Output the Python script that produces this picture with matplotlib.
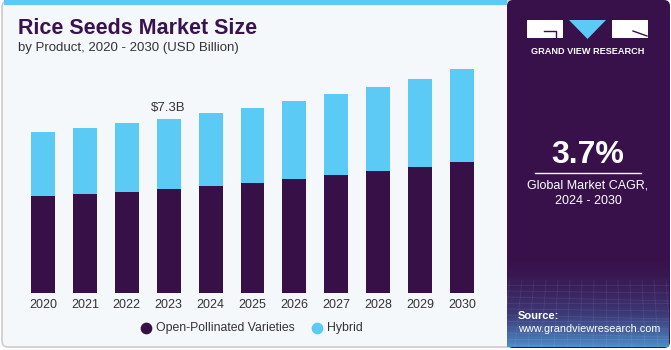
import numpy as np
import matplotlib.pyplot as plt
from matplotlib.patches import FancyBboxPatch, Rectangle, Polygon

years = ["2020", "2021", "2022", "2023", "2024", "2025", "2026", "2027", "2028", "2029", "2030"]
open_pollinated = [4.08, 4.17, 4.25, 4.39, 4.51, 4.64, 4.79, 4.95, 5.13, 5.29, 5.51]
hybrid = [2.70, 2.74, 2.88, 2.91, 3.05, 3.13, 3.26, 3.40, 3.51, 3.71, 3.89]
highlight_label = "$7.3B"
highlight_idx = 3

purple = "#371047"
sky = "#5BCAF5"
panel = "#38114A"
W, H = 671, 350

plt.rcParams['font.family'] = ['Liberation Sans', 'DejaVu Sans']

fig = plt.figure(figsize=(W / 100, H / 100), dpi=100)
fig.patch.set_facecolor("white")

# background / decoration layer in pixel coordinates
bg = fig.add_axes([0, 0, 1, 1])
bg.set_xlim(0, W)
bg.set_ylim(H, 0)
bg.axis("off")
bg.add_patch(FancyBboxPatch((2, 1), W - 5, H - 4, boxstyle="round,pad=0,rounding_size=6",
                            fc="#F4F8FB", ec="#CCCCCC", lw=1.2))
bg.add_patch(Rectangle((4, 0), 503, 5, fc=sky, ec="none"))
bg.add_patch(FancyBboxPatch((507, 0), W - 508, H - 2, boxstyle="round,pad=0,rounding_size=6",
                            fc=panel, ec="none"))
# bottom gradient of the side panel
grad = np.linspace(0, 1, 100)[:, None]
cmap = plt.matplotlib.colors.LinearSegmentedColormap.from_list("g", [panel, "#3D3A78", "#4C8CC8"])
bg.imshow(grad ** 1.6, extent=(507, W - 2, H - 3, 255), cmap=cmap, aspect="auto", zorder=2)
for k in range(12):
    yy = 285 + k * 6
    bg.plot([507, W - 2], [yy, yy + (k % 3) * 2], color="white", alpha=0.08, lw=0.6, zorder=3)
for k in range(14):
    xx = 510 + k * 12
    bg.plot([xx, xx - 8 + k], [280, H - 3], color="white", alpha=0.08, lw=0.6, zorder=3)

# logo
bg.add_patch(Rectangle((527, 20), 36, 18, fc="white", ec="none", zorder=4))
bg.add_patch(Polygon([(569, 20), (606, 20), (587.5, 39)], closed=True, fc=sky, ec="none", zorder=4))
bg.add_patch(Rectangle((612, 20), 36, 18, fc="white", ec="none", zorder=4))
bg.plot([544, 556, 556], [31, 31, 38], color=panel, lw=1, zorder=5)
bg.plot([633, 647], [31, 36], color=panel, lw=1, zorder=5)
bg.text(587.5, 51, "GRAND VIEW RESEARCH", color="white", fontsize=6.6, fontweight="bold",
        ha="center", va="center", zorder=5)

bg.text(588, 155, "3.7%", color="white", fontsize=23, fontweight="bold", ha="center", va="center", zorder=5)
bg.plot([535, 641], [173, 173], color="white", lw=1, zorder=5)
bg.text(588, 185.5, "Global Market CAGR,", color="white", fontsize=9, ha="center", va="center", zorder=5)
bg.text(588, 201.5, "2024 - 2030", color="white", fontsize=9, ha="center", va="center", zorder=5)
bg.text(518, 316, "Source:", color="white", fontsize=8, fontweight="bold", ha="left", va="center", zorder=5)
bg.text(518, 329, "www.grandviewresearch.com", color="white", fontsize=7.8, ha="left", va="center", zorder=5)

# titles
bg.text(18, 28, "Rice Seeds Market Size", color="#3A1250", fontsize=15.5, fontweight="bold",
        ha="left", va="center")
bg.text(18, 48, "by Product, 2020 - 2030 (USD Billion)", color="#333333", fontsize=9.5,
        ha="left", va="center")

# legend
bg.scatter([146], [328], s=55, color=purple, zorder=5)
bg.text(156, 328, "Open-Pollinated Varieties", fontsize=8.8, color="#333333", va="center", ha="left")
bg.scatter([317], [328], s=55, color=sky, zorder=5)
bg.text(327, 328, "Hybrid", fontsize=8.8, color="#333333", va="center", ha="left")

# chart
ax = fig.add_axes([22 / W, 56.7 / H, 461 / W, (290 - 56.7) / H])
ax.set_facecolor("none")
x = np.arange(len(years))
ax.bar(x, open_pollinated, width=0.57, color=purple, zorder=2)
ax.bar(x, hybrid, width=0.57, bottom=open_pollinated, color=sky, zorder=2)
total = np.array(open_pollinated) + np.array(hybrid)
ax.text(x[highlight_idx], total[highlight_idx] + 0.45, highlight_label, ha="center", va="center",
        fontsize=9.5, color="#333333")
ax.set_xlim(-0.5, len(years) - 0.5)
ax.set_ylim(0, 9.78)
ax.set_xticks(x)
ax.set_xticklabels(years, fontsize=9, color="#333333")
ax.tick_params(axis="x", length=0, pad=4)
ax.set_yticks([])
for s in ax.spines.values():
    s.set_visible(False)

fig.savefig("out.png", dpi=100)
